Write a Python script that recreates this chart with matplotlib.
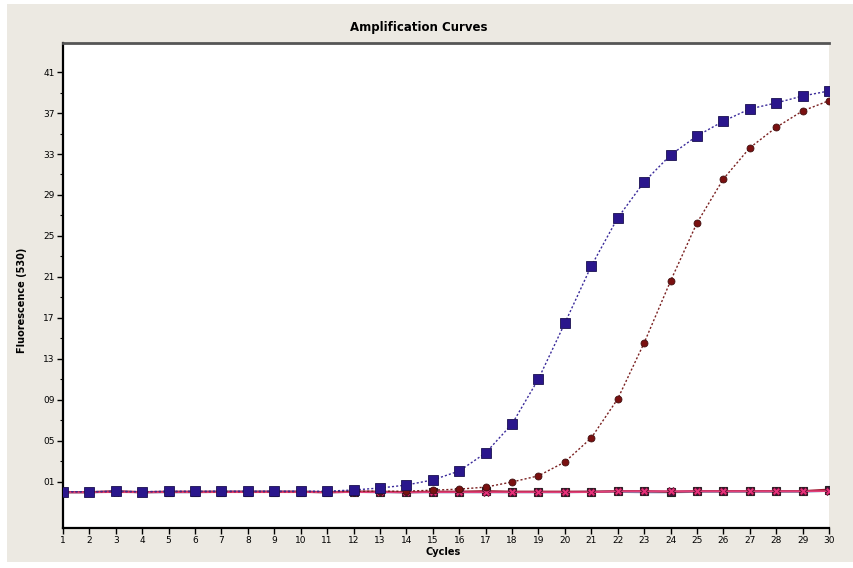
import matplotlib
matplotlib.use("Agg")
import matplotlib.pyplot as plt
from matplotlib.patches import Rectangle

cycles = list(range(1, 31))
sample_a = [0.05, 0.05, 0.1, 0.05, 0.1, 0.1, 0.1, 0.1, 0.1, 0.1, 0.1, 0.22, 0.41, 0.7, 1.2,
            2.07, 3.83, 6.66, 11.05, 16.5, 22.07, 26.76, 30.27, 32.9, 34.76, 36.2, 37.4,
            37.98, 38.66, 39.15]
sample_b = [0.05, 0.05, 0.05, 0.05, 0.05, 0.05, 0.05, 0.05, 0.05, 0.05, 0.05, 0.1, 0.1, 0.1,
            0.2, 0.3, 0.5, 1.0, 1.6, 2.95, 5.3, 9.1, 14.56, 20.6, 26.27, 30.56, 33.6, 35.6,
            37.2, 38.2]
ntc_1 = [0.0, 0.0, 0.0, 0.0, 0.0, 0.0, 0.0, 0.0, 0.0, 0.0, 0.0, 0.0, 0.0, 0.0, 0.0, 0.0, 0.0,
         0.0, 0.0, 0.0, 0.0, 0.1, 0.1, 0.1, 0.1, 0.1, 0.1, 0.1, 0.1, 0.1]
ntc_2 = [0.0, 0.0, 0.1, 0.0, 0.05, 0.05, 0.05, 0.05, 0.05, 0.05, 0.0, 0.05, 0.05, 0.0, 0.05,
         0.05, 0.1, 0.05, 0.05, 0.05, 0.05, 0.1, 0.1, 0.05, 0.1, 0.1, 0.1, 0.1, 0.1, 0.25]
ntc_3 = [0.0, 0.0, 0.05, 0.0, 0.0, 0.0, 0.05, 0.05, 0.05, 0.05, 0.0, 0.05, 0.0, 0.0, 0.0, 0.0,
         0.0, 0.0, 0.0, 0.0, 0.05, 0.05, 0.0, 0.0, 0.05, 0.05, 0.05, 0.05, 0.05, 0.15]
ytick_vals = [1, 5, 9, 13, 17, 21, 25, 29, 33, 37, 41]
ytick_labels = ["01", "05", "09", "13", "17", "21", "25", "29", "33", "37", "41"]

W, H = 854, 568
fig = plt.figure(figsize=(W / 100, H / 100), dpi=100)
fig.patch.set_facecolor("white")
fig.patches.append(Rectangle((7 / W, 6 / H), 1 - 7 / W, 1 - 10 / H, transform=fig.transFigure,
                             facecolor="#ECE9E2", edgecolor="none", zorder=-5))

ax = fig.add_axes([63 / W, 1 - 528 / H, (829 - 63) / W, (528 - 43) / H])
ax.set_zorder(2)
ax.set_facecolor("white")

# baseline (negative control) traces
ax.plot(cycles, ntc_3, color="#8FA0D0", lw=1.6, zorder=2)
ax.plot(cycles, ntc_2, color="#A01830", lw=1.6, zorder=3, marker="s", ms=6,
        mfc="#3A1A40", mec="#222222", mew=0.8)
ax.plot(cycles, ntc_1, color="#E0407A", lw=1.2, zorder=4, marker="X", ms=6,
        mfc="#E8307A", mec="#601030", mew=0.6)

ax.plot(cycles, sample_b, color="#7A2020", lw=1.0, ls=(0, (1.5, 1.5)), zorder=5,
        marker="o", ms=5, mfc="#7A1010", mec="#401010", mew=0.6)
ax.plot(cycles, sample_a, color="#3A2A9A", lw=1.0, ls=(0, (1.5, 1.5)), zorder=6,
        marker="s", ms=6.5, mfc="#2A168C", mec="#1A1050", mew=0.6)

ax.set_xlim(1, 30)
ax.set_ylim(-3.49, 43.83)
ax.set_xticks(cycles)
ax.set_xticklabels([str(c) for c in cycles], fontsize=6.5)
ax.set_yticks(ytick_vals)
ax.set_yticklabels(ytick_labels, fontsize=6.5)
ax.set_yticks([v + 2 for v in ytick_vals[:-1]], minor=True)
ax.tick_params(axis="both", which="major", length=4, width=1, colors="black", pad=2)
ax.tick_params(axis="y", which="minor", length=2.5, width=0.8)

for side in ("left", "bottom"):
    ax.spines[side].set_color("black")
    ax.spines[side].set_linewidth(1.6)
ax.spines["top"].set_color("#555555")
ax.spines["top"].set_linewidth(2)
ax.spines["right"].set_visible(False)

fig.text(0.49, 1 - 27 / H, "Amplification Curves", ha="center", va="center",
         fontsize=8.5, fontweight="bold")
fig.text(443 / W, 1 - 552 / H, "Cycles", ha="center", va="center", fontsize=7,
         fontweight="bold")
fig.text(22 / W, 1 - 300 / H, "Fluorescence (530)", ha="center", va="center",
         fontsize=7, rotation=90, fontweight="bold")

fig.savefig("out.png", dpi=100, facecolor=fig.get_facecolor())
